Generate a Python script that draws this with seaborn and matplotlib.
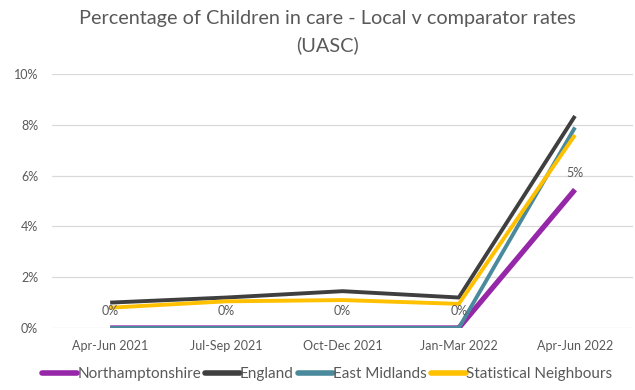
import pandas as pd
import seaborn as sns
import matplotlib.pyplot as plt
from matplotlib.ticker import PercentFormatter

quarters = ["Apr-Jun 2021", "Jul-Sep 2021", "Oct-Dec 2021", "Jan-Mar 2022", "Apr-Jun 2022"]
northamptonshire = [0.0, 0.0, 0.0, 0.0, 5.45]
england = [1.0, 1.2, 1.45, 1.2, 8.35]
east_midlands = [0.0, 0.0, 0.0, 0.0, 7.9]
stat_neighbours = [0.8, 1.05, 1.1, 0.95, 7.6]

areas = ["Northamptonshire", "England", "East Midlands", "Statistical Neighbours"]
colours = ["#9527a8", "#3f3f3f", "#4a8a9c", "#ffc000"]
widths = [3.8, 2.8, 2.8, 2.8]

# long-form table for seaborn
rows = []
for area, vals in zip(areas, [northamptonshire, england, east_midlands, stat_neighbours]):
    for q, v in zip(quarters, vals):
        rows.append({"Quarter": q, "Rate": v / 100, "Area": area})
df = pd.DataFrame(rows)

sns.set_theme(style="white")
plt.rcParams["font.family"] = ["Lato", "DejaVu Sans"]

fig = plt.figure(figsize=(6.35, 3.9), dpi=100)
ax = fig.add_axes([0.082, 0.159, 0.915, 0.651])

sns.lineplot(data=df, x="Quarter", y="Rate", hue="Area", hue_order=areas,
             palette=colours, sort=False, ax=ax, legend=False)
for line, lw in zip(ax.lines, widths):
    line.set_linewidth(lw)
    line.set_solid_capstyle("butt")

# data labels for Northamptonshire
for i, v in enumerate(northamptonshire):
    ax.annotate(f"{v:.0f}%", (i, v / 100), xytext=(0, 8), textcoords="offset points",
                ha="center", va="bottom", fontsize=9, color="#595959")

ax.set_xlim(-0.5, 4.5)
ax.set_ylim(0, 0.10)
ax.set_yticks([0, 0.02, 0.04, 0.06, 0.08, 0.10])
ax.yaxis.set_major_formatter(PercentFormatter(1.0, decimals=0))
ax.grid(axis="y", color="#d9d9d9", linewidth=0.9)
ax.set_axisbelow(True)
for s in ["top", "right", "left", "bottom"]:
    ax.spines[s].set_visible(False)
ax.tick_params(axis="both", length=0, labelsize=9, colors="#595959")
ax.tick_params(axis="x", pad=9)
ax.tick_params(axis="y", pad=10)
ax.set_xlabel("")
ax.set_ylabel("")

fig.text(0.515, 0.953, "Percentage of Children in care - Local v comparator rates",
         ha="center", va="center", fontsize=14.3, color="#595959")
fig.text(0.515, 0.885, "(UASC)", ha="center", va="center", fontsize=14.3, color="#595959")

handles = [plt.Line2D([], [], color=c, lw=4) for c in colours]
fig.legend(handles, areas, loc="lower center", bbox_to_anchor=(0.515, -0.012), ncol=4,
           frameon=False, fontsize=11, handlelength=2.3, handletextpad=0.0,
           columnspacing=0.25, labelcolor="#595959")

fig.savefig("out.png", dpi=100)
